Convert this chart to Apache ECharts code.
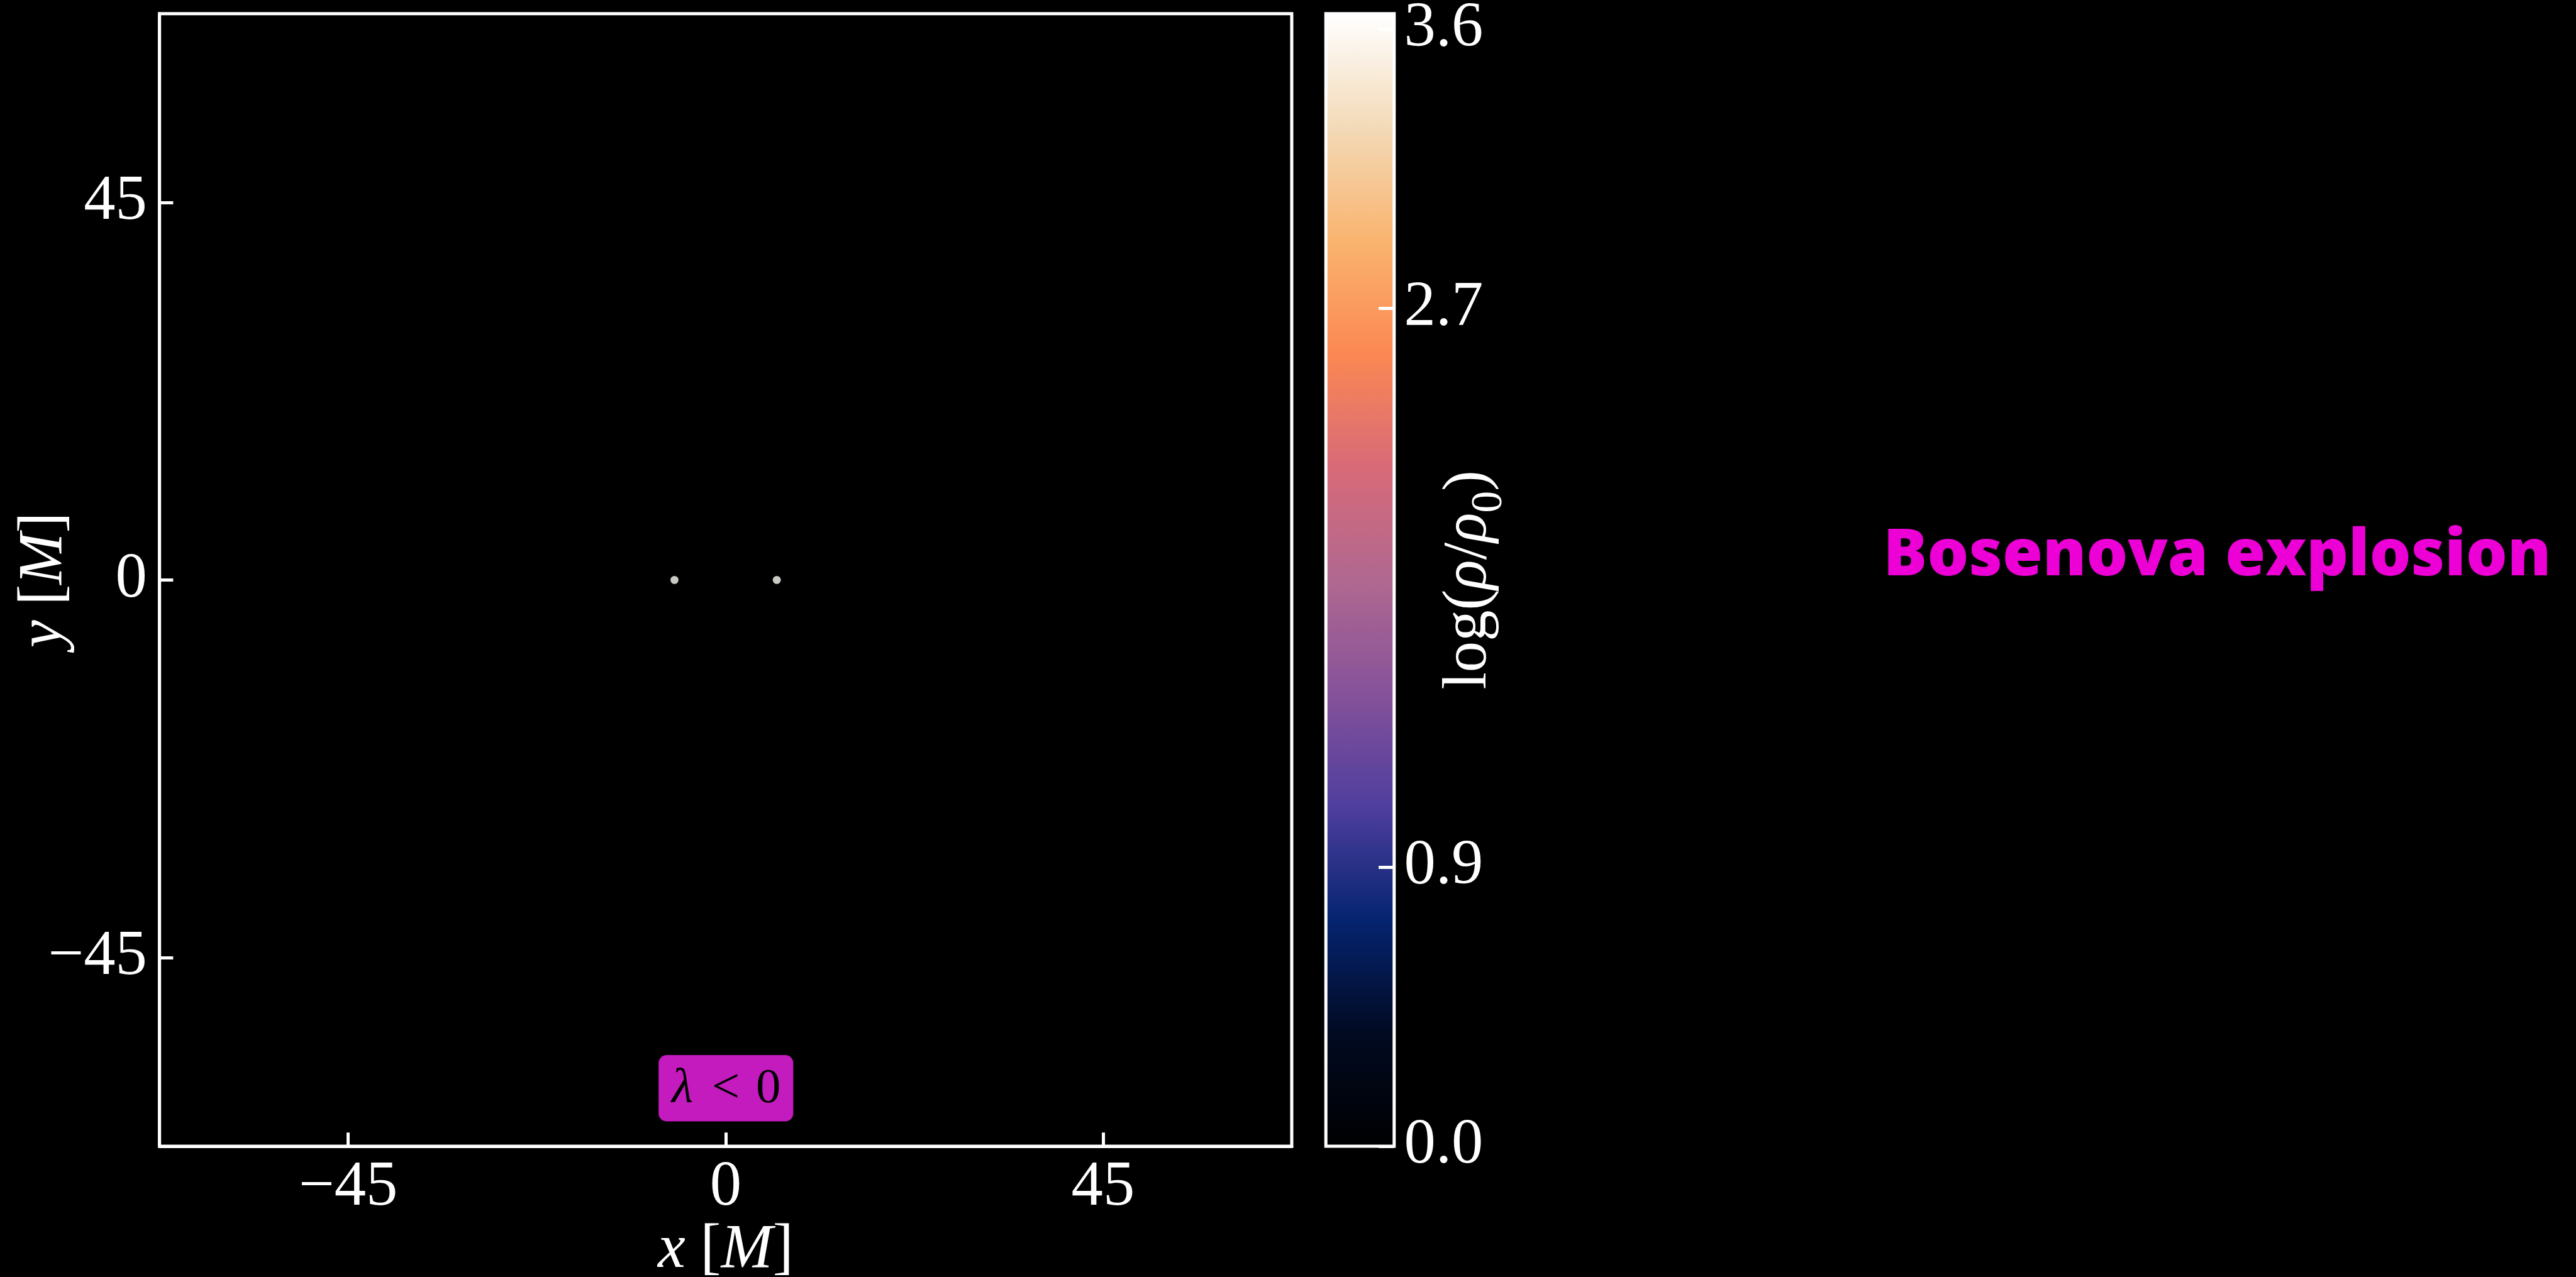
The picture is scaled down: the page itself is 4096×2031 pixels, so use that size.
<!DOCTYPE html>
<html>
<head>
    <meta charset="utf-8">
    <title>Bosenova explosion</title>
    <script src="https://cdn.jsdelivr.net/npm/echarts@6/dist/echarts.min.js"></script>
    <style>
        html, body { margin: 0; padding: 0; background: #000; }
    </style>
</head>
<body>
<div id="main" style="width: 4096px;height:2031px;"></div>
<script type="text/javascript">
    // scale from the 4148px reference to the 4096px window
    var S = 0.987;

    // density blobs: [x, y, log(rho/rho0)]
    var blobs = [[-6.1, 0, 3.6], [6.1, 0, 3.6]];
    var xRange = [-67.5, 67.5];
    var yRange = [-67.5, 67.5];
    var xTicks = [-45, 0, 45];
    var yTicks = [-45, 0, 45];
    var cbarRange = [0, 3.65];
    var cbarTicks = [0, 0.9, 2.7, 3.6];
    // colormap stops, evenly spaced from 0 to max
    var cmapColors = ['#000000', '#010a22', '#052470', '#4f3e9e', '#86529a', '#b06890',
        '#d86a78', '#fb8852', '#fab470', '#f3dab8', '#ffffff'];

    var serif = 'Liberation Serif';
    var white = '#ffffff';
    var lw = 5;

    function fmtTick(v) {
        return v < 0 ? '\u2212' + Math.abs(v) : String(v);
    }

    var myChart = echarts.init(document.getElementById('main'));

    var tickFont = { color: white, fontFamily: serif, fontSize: 102 * S };
    var nameRich = {
        i: { fontFamily: serif, fontStyle: 'italic', fontSize: 100 * S, color: white },
        r: { fontFamily: serif, fontSize: 100 * S, color: white },
        sp: { fontFamily: serif, fontSize: 100 * S, color: white, padding: [0, 0, 0, 24 * S] },
        sub: { fontFamily: serif, fontSize: 70 * S, color: white, verticalAlign: 'bottom', padding: [0, 0, -18 * S, 0] }
    };

    option = {
        backgroundColor: '#000',
        animation: false,
        grid: [
            { left: 257 * S, top: 22 * S, width: 1824 * S, height: 1825 * S, outerBoundsMode: 'none',
              show: true, borderColor: white, borderWidth: lw, backgroundColor: '#000' },
            { left: 2136 * S, top: 22 * S, width: 110 * S, height: 1825 * S, outerBoundsMode: 'none',
              show: true, borderColor: white, borderWidth: lw, backgroundColor: 'transparent', z: 10 }
        ],
        xAxis: [{
            type: 'value', gridIndex: 0, min: xRange[0], max: xRange[1],
            axisLine: { show: true, onZero: false, lineStyle: { color: white, width: lw } },
            axisTick: { show: true, inside: true, length: 22 * S, customValues: xTicks,
                        lineStyle: { color: white, width: lw } },
            axisLabel: Object.assign({ customValues: xTicks, margin: 16 * S, formatter: fmtTick }, tickFont),
            splitLine: { show: false },
            name: '{i|x}{sp|[}{i|M}{r|]}',
            nameLocation: 'middle', nameGap: 118 * S, nameMoveOverlap: false,
            nameTextStyle: { rich: nameRich }
        }, {
            type: 'value', gridIndex: 1, min: 0, max: 1, show: false
        }],
        yAxis: [{
            type: 'value', gridIndex: 0, min: yRange[0], max: yRange[1],
            axisLine: { show: true, onZero: false, lineStyle: { color: white, width: lw } },
            axisTick: { show: true, inside: true, length: 22 * S, customValues: yTicks,
                        lineStyle: { color: white, width: lw } },
            axisLabel: Object.assign({ customValues: yTicks, margin: 20 * S, formatter: fmtTick }, tickFont),
            splitLine: { show: false },
            name: '{i|y}{sp|[}{i|M}{r|]}',
            nameLocation: 'middle', nameGap: 135 * S, nameRotate: 90, nameMoveOverlap: false,
            nameTextStyle: { rich: nameRich }
        }, {
            type: 'value', gridIndex: 1, position: 'right', min: cbarRange[0], max: cbarRange[1], z: 10,
            axisLine: { show: false, onZero: false },
            axisTick: { show: true, inside: true, length: 25 * S, customValues: cbarTicks,
                        lineStyle: { color: white, width: lw } },
            axisLabel: Object.assign({ customValues: cbarTicks, margin: 16 * S,
                        formatter: function (v) { return v.toFixed(1); } }, tickFont),
            splitLine: { show: false },
            name: '{r|log(}{i|\u03c1}{r|/}{i|\u03c1}{sub|0}{r|)}',
            nameLocation: 'middle', nameGap: 71 * S, nameRotate: 90, nameMoveOverlap: false,
            nameTextStyle: { rich: nameRich }
        }],
        visualMap: {
            type: 'continuous', min: cbarRange[0], max: cbarRange[1],
            seriesIndex: 0, dimension: 2, calculable: false, hoverLink: false,
            inRange: { color: cmapColors },
            left: 2136 * S, top: 22 * S, itemWidth: 110 * S, itemHeight: 1825 * S,
            padding: 0, text: null, z: 2
        },
        series: [{
            type: 'scatter', xAxisIndex: 0, yAxisIndex: 0,
            data: blobs, symbolSize: 13 * S, silent: true
        }],
        graphic: [{
            type: 'group',
            children: [{
                type: 'rect',
                shape: { x: 1061 * S, y: 1700 * S, width: 217 * S, height: 107 * S, r: 13 * S },
                style: { fill: '#c31bbd' }
            }, {
                type: 'text',
                x: 1170 * S, y: 1755 * S,
                style: {
                    text: '{i|\u03bb}{s|<}{r|0}',
                    align: 'center', verticalAlign: 'middle',
                    rich: {
                        i: { fontFamily: serif, fontStyle: 'italic', fontSize: 80 * S, fill: '#000' },
                        s: { fontFamily: serif, fontSize: 80 * S, fill: '#000', padding: [0, 26 * S, 0, 30 * S] },
                        r: { fontFamily: serif, fontSize: 80 * S, fill: '#000' }
                    }
                }
            }]
        }, {
            type: 'text',
            x: 3034 * S, y: 897 * S,
            style: {
                text: 'Bosenova explosion',
                fill: '#ec00d6',
                font: '800 ' + (105 * S) + 'px "Open Sans"',
                align: 'left', verticalAlign: 'middle'
            }
        }]
    };
    myChart.setOption(option);
</script>
</body>
</html>
